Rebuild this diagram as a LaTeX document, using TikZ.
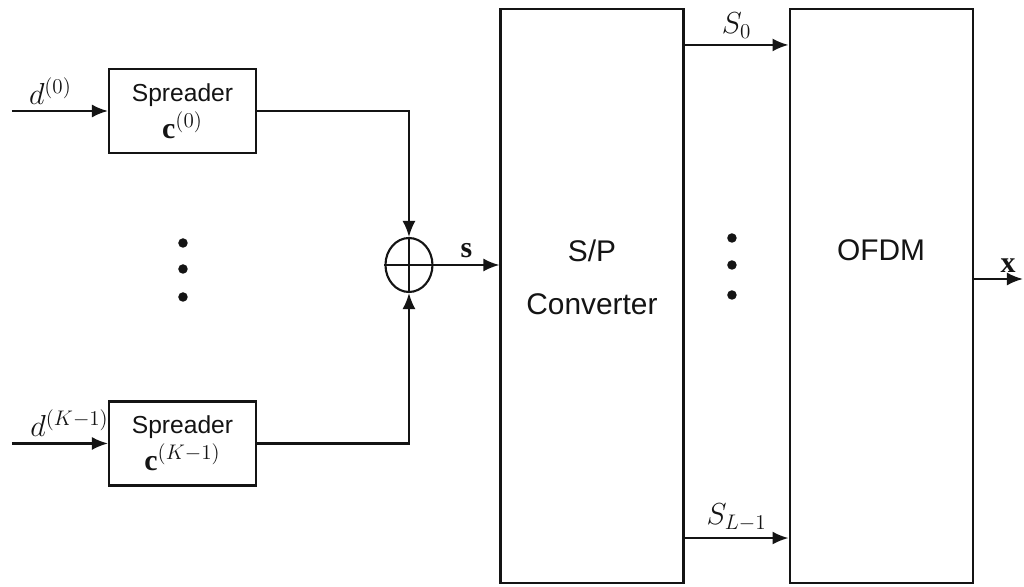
\documentclass[tikz,border=0pt]{standalone}
\usepackage{fontspec}
\setmainfont{Liberation Serif}
\setsansfont{Liberation Sans}
\usetikzlibrary{arrows.meta, positioning, calc, backgrounds, shapes.geometric}
\definecolor{Ink}{HTML}{141414}

\begin{document}
\begin{tikzpicture}[font=\sffamily,every node/.style={text=Ink},spreadbox/.style={draw=Ink,line width=1.2pt,minimum width=2.94cm,minimum height=1.68cm,inner sep=2pt,align=center,font=\sffamily\fontsize{14}{21}\selectfont},tallbox/.style={draw=Ink,line width=1.2pt,minimum width=3.66cm,minimum height=11.48cm},boxtext/.style={align=center,font=\sffamily\fontsize{17}{30}\selectfont},sumnode/.style={draw=Ink,ellipse,line width=1.2pt,minimum width=0.94cm,minimum height=1.08cm,inner sep=0pt},flowarrow/.style={-{Latex[length=3.2mm,width=2.6mm]},draw=Ink,line width=1.2pt},flowline/.style={draw=Ink,line width=1.2pt},dotmark/.style={circle,fill=Ink,inner sep=0pt,minimum size=0.19cm},siglabel/.style={font=\fontsize{17}{19}\selectfont}]
\begin{scope}[on background layer]\fill[white] (0,0) rectangle (20.48,-11.74);\end{scope}
\node[spreadbox] (spread0) at (3.65,-2.22) {Spreader\\{\fontsize{17}{19}\selectfont$\mathbf{c}^{(0)}$}};
\node[spreadbox] (spreadK) at (3.65,-8.87) {Spreader\\{\fontsize{17}{19}\selectfont$\mathbf{c}^{(K-1)}$}};
\coordinate (in0) at (0.24,-2.22);
\coordinate (inK) at (0.24,-8.87);
\draw[flowarrow] (in0) -- node[above,siglabel,pos=0.4] {$d^{(0)}$} (spread0.west);
\draw[flowarrow] (inK) -- node[above,siglabel,pos=0.6] {$d^{(K-1)}$} (spreadK.west);
\node[dotmark] (ldot1) at (3.66,-4.86) {};
\node[dotmark] (ldot2) at (3.66,-5.38) {};
\node[dotmark] (ldot3) at (3.66,-5.94) {};
\node[sumnode] (sum) at (8.18,-5.30) {};
\draw[flowline] (sum.north) -- (sum.south) (sum.west) -- (sum.east);
\draw[flowarrow] (spread0.east) -| (sum.north);
\draw[flowarrow] (spreadK.east) -| (sum.south);
\node[tallbox] (sp) at (11.84,-5.92) {};
\node[boxtext] (sptext) at ([yshift=0.38cm]sp.center) {S/P\\Converter};
\node[tallbox, right=2.08cm of sp] (ofdm) {};
\node[boxtext] (ofdmtext) at ([yshift=0.92cm]ofdm.center) {OFDM};
\draw[flowarrow] (sum.east) -- node[above,siglabel] {$\mathbf{s}$} (sum.east -| sp.west);
\draw[flowarrow] ([yshift=-0.74cm]sp.north east) -- node[above,siglabel] {$S_0$} ([yshift=-0.74cm]sp.north east -| ofdm.west);
\draw[flowarrow] ([yshift=0.92cm]sp.south east) -- node[above,siglabel] {$S_{L-1}$} ([yshift=0.92cm]sp.south east -| ofdm.west);
\node[dotmark] (rdot1) at (14.64,-4.76) {};
\node[dotmark] (rdot2) at (14.64,-5.30) {};
\node[dotmark] (rdot3) at (14.64,-5.90) {};
\coordinate (xout) at (20.46,-5.58);
\draw[flowarrow] (ofdm.east |- xout) -- node[above,siglabel,pos=0.7] {$\mathbf{x}$} (xout);
\end{tikzpicture}
\end{document}
